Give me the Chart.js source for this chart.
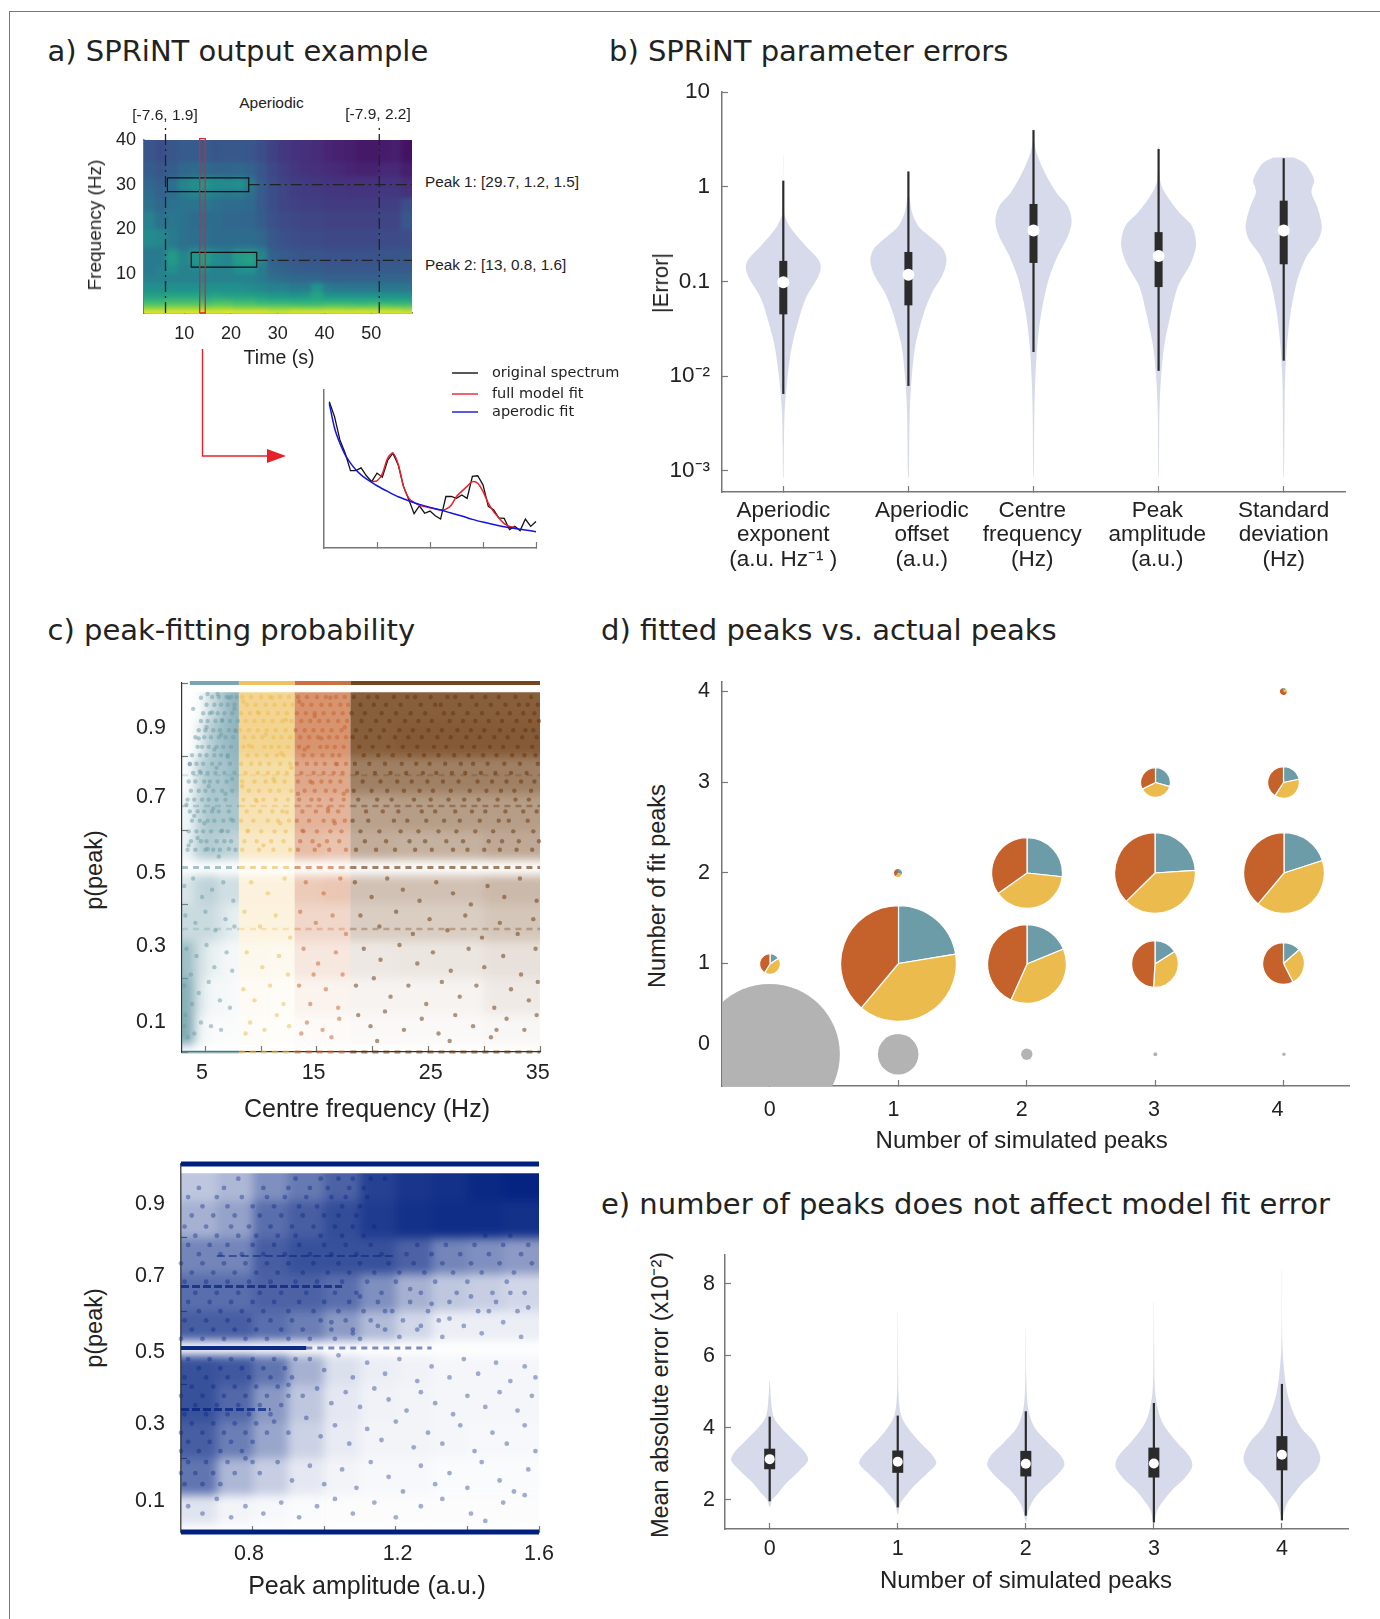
<!DOCTYPE html>
<html>
<head>
<meta charset="utf-8">
<title>SPRiNT figure</title>
<script src="https://cdn.jsdelivr.net/npm/chart.js@4/dist/chart.umd.min.js"></script>
<style>
  html, body { margin: 0; padding: 0; background: #fff; }
  #page { position: relative; width: 1380px; height: 1619px; overflow: hidden; }
  #page canvas { position: absolute; }
  .txt { position: absolute; white-space: nowrap; color: #222; font-family: "Liberation Sans", sans-serif; }
  .head { font-family: "DejaVu Sans", sans-serif; font-size: 29px; }
  #frame { position: absolute; left: 9px; top: 11px; width: 1371px; height: 1608px; border-left: 1px solid #777; border-top: 1px solid #777; }
</style>
</head>
<body>
<div id="page"><div id="frame"></div></div>
<script>
"use strict";

/* ================================
   DATA - panel a (spectrogram + spectrum)
   ================================ */
const heatFreqEdges = [[40,35],[35,32],[32,31],[31,29],[29,27],[27,24],[24,20],[20,16],[16,15],[15,12],[12,10],[10,8],[8,6],[6,4.5],[4.5,3.5],[3.5,2.5],[2.5,1.8],[1.8,1.2]];
const heatTimeEdges = [1.4,3.8,6.2,8.6,11,13.3,15.7,18.1,20.5,22.9,25.3,27.7,30,32.4,34.8,37.2,39.6,42,44.4,46.8,49.2,51.6,54,56.4,58.7];
const heatValues = [
  [27,24,27,29,29,29,27,28,28,27,24,20,17,15,14,13,11,10,9,7,7,8,9,5],
  [30,27,30,34,35,35,33,33,34,32,27,22,19,17,15,14,13,12,11,10,10,12,12,9],
  [32,29,33,40,44,46,44,42,44,37,28,23,20,18,17,16,15,14,14,14,14,15,15,12],
  [34,31,37,46,50,52,49,49,50,42,30,24,21,19,18,17,16,16,15,15,15,16,16,14],
  [36,32,36,42,45,46,43,41,42,37,29,24,21,19,18,18,17,17,16,16,16,17,17,15],
  [38,34,38,39,39,40,37,36,36,35,29,24,21,20,19,19,18,18,18,18,18,19,19,24],
  [44,38,40,38,36,36,36,34,34,34,30,25,23,22,21,21,20,20,20,20,20,21,21,28],
  [48,46,42,38,37,37,36,36,36,36,34,28,25,24,23,23,22,22,22,22,22,23,23,24],
  [42,42,46,40,44,45,42,40,44,44,42,30,27,26,25,25,24,24,24,24,24,25,25,25],
  [42,42,54,46,52,55,49,46,55,57,45,32,30,28,27,27,26,26,26,26,26,27,27,27],
  [42,44,50,44,46,48,44,44,50,51,42,34,32,30,29,29,28,28,28,28,28,29,29,29],
  [44,44,44,44,44,44,44,44,44,44,42,38,36,34,34,34,32,32,32,32,32,33,33,33],
  [50,50,50,50,50,50,50,50,50,48,46,44,44,42,42,52,42,40,40,40,40,40,40,40],
  [56,56,58,58,58,56,58,56,56,56,54,52,52,50,52,58,50,50,50,50,50,50,50,50],
  [66,66,68,68,68,66,68,68,66,66,64,62,62,62,62,62,62,62,62,62,62,60,60,60],
  [74,74,76,76,76,74,76,76,74,74,72,72,72,70,70,70,72,72,72,70,72,72,70,70],
  [84,84,86,86,86,84,86,86,84,84,84,82,82,84,82,82,84,84,82,84,84,84,84,82],
  [96,96,96,96,96,97,96,97,96,96,96,94,94,96,96,96,96,96,96,96,94,96,96,94]
];
const peakBox1 = [[6.4,31.5],[23.8,31.5],[23.8,28.4],[6.4,28.4],[6.4,31.5]];
const peakBox2 = [[11.5,14.8],[25.5,14.8],[25.5,11.5],[11.5,11.5],[11.5,14.8]];
const redBox = [[13.3,1.2],[14.5,1.2],[14.5,40.3],[13.3,40.3],[13.3,1.2]];
const aperiodicTimes = [6, 51.7];

const specFreq = [1,2,3,4,5,6,7,8,9,10,11,12,13,14,15,16,17,18,19,20,21,22,23,24,25,26,27,28,29,30,31,32,33,34,35,36,37,38,39,40];
const specOriginal = [92.6,83,68.4,60,49,49,50.7,45.7,42,47.4,44.8,55.4,60,52.6,39,30.5,21.7,26.7,22,23.4,20.4,18.3,32.6,32.6,31.4,33.5,31.4,45.3,45.7,40,26.3,24.2,19,18.7,11.6,13.7,11,18.3,13.7,16.8];
const fitFreq = [9,10,11,12,13,14,15,16,17,18,20,22,23,24,25,27,28,29,30,31,32,33,34,35,36];
const specFull = [42,42.5,47,56.8,60,53,39,31.6,28.8,27,25.5,24,24.6,27,32.6,39,42,41,35.8,28.4,23,19,15.4,13.7,13];
const apFreq = [1,2,3,4,5,6,7,8,9,10,12,14,16,18,20,22,24,26,28,30,32,34,36,38,40];
const specAperiodic = [91.6,75.8,66.3,59,53.7,49.5,46.3,43.8,41.5,39.4,35.8,32.4,29.9,27.6,25.7,24,22.1,20.2,18.1,16.4,14.9,13.5,12.4,11.4,10.3];

/* ================================
   DATA - panel b (violins, log scale)
   ================================ */
const errPos = [1, 2, 3, 4, 5];
const errLabels = [
  ["Aperiodic", "exponent", "(a.u. Hz⁻¹ )"],
  ["Aperiodic", "offset", "(a.u.)"],
  ["Centre", "frequency", "(Hz)"],
  ["Peak", "amplitude", "(a.u.)"],
  ["Standard", "deviation", "(Hz)"]
];
const errLevels = [
  [2.17,.53,.384,.237,.171,.14,.106,.071,.047,.021,.0095,.0043,.0019,.00085],
  [.79,.53,.384,.278,.218,.165,.115,.077,.047,.021,.0095,.0043,.00085],
  [3.1,2.25,1.39,.86,.62,.43,.3,.186,.106,.047,.021,.0095,.0043,.00085],
  [2.65,1.18,.86,.53,.384,.247,.159,.09,.047,.021,.0095,.0043,.00085],
  [2.03,1.77,1.39,1.14,1,.86,.62,.384,.278,.186,.106,.047,.021,.0095,.0043,.00085]
];
const errWidths = [
  [.001,.007,.05,.18,.28,.3,.27,.19,.14,.07,.033,.011,.005,.002],
  [.007,.03,.08,.2,.28,.305,.27,.19,.125,.055,.026,.011,.003],
  [.004,.026,.093,.185,.275,.305,.275,.193,.122,.063,.03,.015,.007,.002],
  [.004,.011,.052,.167,.267,.3,.26,.156,.1,.045,.019,.007,.002],
  [.082,.167,.222,.245,.23,.222,.267,.305,.278,.185,.111,.056,.026,.011,.007,.002]
];
const errTop = [1.16, 1.45, 3.96, 2.5, 2.0];
const errLow = [.0065, .0079, .018, .0114, .0146];
const errQ3 = [.165, .205, .658, .332, .713];
const errQ1 = [.045, .056, .157, .0873, .152];
const errMedian = [.098, .118, .345, .186, .345];

/* ================================
   DATA - panel c (peak probability)
   ================================ */
const probRows = [[.975,.9],[.9,.8],[.8,.7],[.7,.6],[.6,.52],[.48,.4],[.4,.3],[.3,.2],[.2,.1],[.1,.02]];
const freqCols = [2.9,4,5,6,7,8,10.5,13,15.5,18,22,26,30,35];
const freqDensity = [
  [0,.03,.32,.58,.75, .62,.62, .68,.68, .78,.78,.78,.78],
  [0,.16,.5,.65,.75, .62,.64, .68,.68, .78,.8,.8,.8],
  [.04,.4,.58,.58,.7, .5,.5, .55,.55, .62,.62,.62,.62],
  [.1,.42,.58,.55,.58, .42,.42, .48,.48, .46,.48,.48,.48],
  [.13,.47,.52,.47,.42, .32,.32, .42,.38, .4,.38,.38,.42],
  [.26,.42,.45,.32,.32, .2,.2, .33,.36, .3,.3,.3,.34],
  [.36,.36,.36,.26,.16, .18,.18, .25,.25, .24,.24,.24,.28],
  [.65,.33,.16,.1,.07, .1,.09, .15,.15, .11,.12,.12,.15],
  [.8,.26,.08,.08,.05, .06,.05, .08,.08, .06,.06,.06,.1],
  [.85,.13,.05,.03,.03, .04,.03, .03,.03, .03,.03,.03,.04]
];
const tealPts = [[3.9,.93],[4.6,.96],[5.2,.97],[5.6,.92],[6.1,.97],[6.5,.9],[7.1,.96],[7.6,.93],[4.4,.85],[5.1,.88],[5.8,.82],[6.4,.86],[7,.8],[7.7,.87],[3.6,.78],[4.5,.76],[5.3,.72],[6,.77],[6.8,.7],[7.4,.74],[3.3,.67],[4,.64],[4.9,.62],[5.7,.66],[6.5,.6],[7.3,.63],[3.5,.56],[4.3,.58],[5.2,.55],[6.2,.53],[7.1,.55],[3.1,.45],[3.9,.47],[4.7,.42],[5.6,.44],[6.6,.46],[7.5,.41],[3.2,.37],[4.1,.35],[5,.38],[5.9,.33],[6.8,.36],[7.6,.34],[3.3,.28],[4.2,.26],[5.1,.29],[5.8,.23],[6.9,.27],[3.1,.18],[3.7,.21],[4.4,.16],[5.3,.19],[6.3,.14],[7.2,.12],[3.2,.1],[3.8,.13],[4.6,.08],[5.5,.07],[6.4,.06],[3.4,.04],[4,.05],[3.1,.07],[7.4,.22]];
const yellowPts = [[8.4,.95],[9.7,.92],[11,.96],[12.2,.9],[8.9,.83],[10.4,.86],[11.8,.81],[12.7,.77],[8.3,.72],[9.6,.68],[11.1,.74],[12.3,.65],[8.8,.6],[10.2,.56],[11.7,.62],[9.1,.46],[10.6,.43],[12.1,.47],[8.5,.38],[9.9,.34],[11.3,.37],[12.6,.31],[8.7,.27],[10.1,.23],[11.6,.26],[12.4,.21],[8.4,.17],[9.4,.14],[10.8,.18],[12,.13],[9,.08],[10.3,.06],[11.4,.1],[8.6,.05],[12.5,.07]];
const orangePts = [[13.4,.95],[14.8,.91],[16.2,.96],[17.5,.88],[13.9,.82],[15.4,.85],[16.8,.78],[13.3,.7],[14.6,.73],[16,.66],[17.4,.7],[13.7,.6],[15.2,.56],[16.6,.62],[14,.46],[15.6,.43],[17.1,.47],[13.5,.38],[14.9,.35],[16.4,.37],[17.6,.32],[13.8,.28],[15.1,.24],[16.7,.27],[17.3,.21],[13.4,.18],[14.4,.13],[15.8,.17],[16.9,.12],[14.1,.08],[15.5,.06],[17,.09],[13.6,.05],[16.3,.04],[14.7,.21]];
const brownPts = [[18.4,.46],[19.9,.42],[21.3,.47],[22.7,.44],[24.2,.41],[25.7,.46],[27.2,.43],[28.8,.4],[30.3,.45],[31.8,.42],[33.2,.47],[34.7,.41],
[18.9,.37],[20.6,.34],[22.1,.38],[23.6,.32],[25.1,.36],[26.7,.33],[28.3,.37],[29.8,.31],[31.4,.35],[33,.32],[34.4,.36],
[19.2,.28],[20.7,.25],[22.4,.29],[24,.24],[25.4,.27],[27,.22],[28.6,.28],[30,.23],[31.7,.26],[33.3,.21],[34.6,.28],
[18.5,.18],[20.1,.2],[21.6,.15],[23.2,.18],[24.8,.13],[26.2,.19],[27.8,.15],[29.3,.18],[30.9,.12],[32.4,.17],[34,.14],[34.8,.19],
[18.7,.1],[19.8,.07],[21.1,.11],[22.8,.06],[24.4,.09],[25.9,.05],[27.4,.1],[29,.07],[30.6,.04],[32,.09],[33.6,.06],[34.7,.1],[20.4,.03],[26.9,.03],[31.1,.06]];

/* dense part of the cloud, one list of x per p(peak) row */
const denseRowsP = [.962,.941,.918,.897,.872,.853,.827,.804,.781,.756,.733,.708,.684,.652,.627,.598,.571,.548];
const brownRows = [
  [18.3,19.6,20.4,21.9,23.1,23.8,25.2,26.7,27.4,28.9,30.1,31.3,32.8,34.2],
  [18.9,20.1,21.2,22.5,24.3,25.6,26.1,27.8,29.3,30.6,31.9,33.1,33.9,34.8],
  [18.1,19.3,20.8,22.1,23.4,24.7,26.4,27.2,28.5,29.8,31.2,32.3,33.5,34.5],
  [19,20.3,21.5,22.9,24.1,25.3,26.9,28.1,29.2,30.4,31.6,32.9,34.1,34.9],
  [18.5,19.8,21,22.4,23.6,25,26.2,27.6,28.8,30,31.4,32.6,33.7,34.4],
  [18.2,19.4,20.6,22,23.2,24.4,25.8,27,28.4,29.6,30.9,32.1,33.4,34.7],
  [18.8,20,21.4,22.7,24,25.5,26.6,28,29.1,30.5,31.7,33,34.3],
  [19.2,20.5,21.8,23.3,24.6,25.9,27.3,28.6,29.9,31.1,32.5,33.6,34.6],
  [18.4,19.7,21.1,22.6,23.9,25.1,26.5,27.9,29,30.3,31.8,33.2,34.8],
  [18.6,20.2,21.6,23,24.5,25.7,27.1,28.3,29.7,31,32.4,33.8],
  [19.1,20.7,22.2,23.5,24.9,26.3,27.7,29.4,30.7,32,33.3,34.5],
  [18.3,19.9,21.3,22.8,24.2,25.4,27,28.7,30.2,31.5,32.7,34.2],
  [18.7,20.4,21.7,23.7,25.2,26.8,28.2,29.5,31.2,32.8,34],
  [19.4,20.9,22.3,24.4,25.6,27.4,28.9,30.1,31.9,33.5,34.7],
  [18.2,19.6,21.9,23.1,24.8,26.4,27.8,29.6,31.3,32.2,33.9],
  [18.9,20.6,22.5,24.1,25.9,27.5,29.2,30.8,32.6,34.4],
  [19.3,21.2,23.3,24.7,26.6,28.1,30.4,31.6,33.1,34.9],
  [18.5,20.3,22,23.8,25.3,27.2,28.5,30,31.4,32.9,34.3]
];
const tealRows = [
  [5.6,6.2,6.9,7.3,7.8],[5.1,5.8,6.4,7,7.6],[4.8,5.4,6.1,6.7,7.4],[4.6,5.2,5.9,6.5,7.2,7.9],[4.4,5,5.7,6.3,7.1,7.7],[4.1,4.9,5.5,6.2,6.8,7.5],
  [4.3,4.7,5.3,6,6.6,7.3],[3.8,4.5,5.1,5.8,6.4,7],[3.6,4.2,4.8,5.6,6.3,7.2],[3.9,4.6,5.2,5.9,6.7,7.6],[3.5,4.1,4.9,5.4,6.1,6.9],[3.7,4.4,5,5.7,6.5,7.4],
  [3.4,4,4.7,5.3,6,6.8],[3.6,4.3,4.9,5.6,6.2,7.1],[3.8,4.5,5.2,5.8,6.6,7.5],[3.5,4.2,4.8,5.5,6.4,7],[3.7,4.6,5.1,6,6.7,7.3],[3.4,4.1,5,5.7,6.3,7.7]
];
const yellowRows = [
  [8.3,9.1,10,10.8,11.7,12.5],[8.7,9.5,10.4,11.2,12.1,12.8],[8.2,9,9.8,10.6,11.5,12.3],[8.6,9.4,10.2,11,11.9,12.7],[8.1,8.9,9.7,10.5,11.3,12.2],[8.5,9.3,10.1,11.1,11.8,12.6],
  [8.4,9.2,10.3,10.9,11.6,12.4],[8.8,9.6,10.5,11.4,12],[8.2,9.1,9.9,10.7,11.7,12.6],[8.6,9.7,10.6,11.5,12.3],[8.3,9.4,10.4,11.2,12.1],[8.9,9.8,10.8,11.6,12.7],
  [8.4,9.5,10.2,11.3,12.4],[8.7,9.9,11,11.9],[8.2,9.3,10.6,11.5,12.5],[8.8,10,11.2,12.2],[8.5,9.6,10.9,12],[8.3,9.8,11.1,12.6]
];
const orangeRows = [
  [13.3,14.1,15,15.8,16.7,17.5],[13.7,14.5,15.4,16.2,17.1,17.8],[13.2,14,14.8,15.6,16.5,17.3],[13.6,14.4,15.2,16,16.9,17.7],[13.1,13.9,14.7,15.5,16.3,17.2],[13.5,14.3,15.1,16.1,16.8,17.6],
  [13.4,14.2,15.3,15.9,16.6,17.4],[13.8,14.6,15.5,16.4,17],[13.2,14.1,14.9,15.7,16.7,17.6],[13.6,14.7,15.6,16.5,17.3],[13.3,14.4,15.4,16.2,17.1],[13.9,14.8,15.8,16.6,17.7],
  [13.4,14.5,15.2,16.3,17.4],[13.7,14.9,16,16.9],[13.2,14.3,15.6,16.5,17.5],[13.8,15,16.2,17.2],[13.5,14.6,15.9,17],[13.3,14.8,16.1,17.6]
];

/* p(peak) vs amplitude */
const ampCols = [.6,.7,.8,.9,1,1.1,1.2,1.3,1.4,1.5,1.6];
const ampDensity = [
  [.25,.32,.5,.6,.7,.85,.9,.92,.96,.98],
  [.35,.42,.65,.72,.8,.88,.92,.94,.94,.92],
  [.55,.55,.72,.78,.78,.78,.7,.55,.5,.45],
  [.65,.65,.7,.7,.65,.5,.35,.25,.22,.18],
  [.72,.72,.65,.58,.45,.3,.18,.08,.08,.08],
  [.78,.75,.62,.35,.14,.08,.06,.04,.04,.04],
  [.78,.68,.46,.25,.1,.06,.05,.04,.04,.04],
  [.72,.58,.4,.2,.09,.05,.05,.04,.03,.03],
  [.62,.32,.22,.1,.05,.03,.03,.02,.02,.02],
  [.12,.05,.03,.02,.01,.01,.01,.01,.01,.01]
];
const bluePts = [[1.1,.64],[1.17,.6],[1.24,.66],[1.3,.62],[1.35,.58],[1.41,.64],[1.46,.6],[1.52,.65],[1.57,.61],[1.02,.57],[1.08,.54],[1.15,.56],[1.21,.53],[1.27,.56],[1.33,.53],[1.39,.56],[1.44,.54],[1.5,.57],[1.55,.53],
[.96,.47],[1,.44],[1.04,.48],[1.08,.42],[1.12,.46],[1.17,.43],[1.21,.47],[1.26,.41],[1.3,.45],[1.35,.42],[1.39,.47],[1.43,.43],[1.48,.46],[1.52,.41],[1.56,.45],[1.59,.42],
[.9,.4],[.94,.37],[.98,.39],[1.02,.35],[1.06,.38],[1.1,.34],[1.14,.39],[1.18,.36],[1.23,.33],[1.27,.38],[1.31,.35],[1.36,.32],[1.4,.37],[1.45,.34],[1.49,.38],[1.54,.33],[1.58,.37],
[.86,.3],[.9,.27],[.95,.31],[.99,.26],[1.03,.29],[1.07,.24],[1.12,.28],[1.16,.25],[1.2,.3],[1.25,.23],[1.29,.27],[1.33,.24],[1.38,.29],[1.42,.22],[1.47,.27],[1.51,.24],[1.56,.29],[1.59,.22],
[.78,.2],[.82,.16],[.87,.19],[.91,.14],[.96,.18],[1,.13],[1.05,.17],[1.09,.12],[1.13,.19],[1.18,.15],[1.22,.11],[1.27,.18],[1.31,.13],[1.35,.16],[1.4,.12],[1.44,.19],[1.49,.14],[1.53,.11],[1.57,.17],
[.62,.07],[.66,.05],[.7,.09],[.74,.04],[.78,.07],[.83,.05],[.88,.08],[.93,.04],[.98,.07],[1.03,.09],[1.08,.05],[1.14,.08],[1.2,.04],[1.27,.07],[1.33,.09],[1.41,.05],[1.5,.08],[1.56,.1],[1.45,.03]];
const blueRowsP = [.96,.935,.91,.885,.86,.83,.805,.78,.755,.73,.705,.68,.65,.625,.6,.575,.55,.525,.47,.445,.42,.395,.37,.345,.32,.295,.27,.245,.22,.19,.16,.13];
const blueRows = [
  [.76,.92,.99,1.04,1.08,1.13,1.17],
  [.65,.72,.83,.9,.96,1.01,1.07,1.11],
  [.62,.7,.77,.84,.89,.95,1.02,1.06,1.12],
  [.66,.73,.8,.86,.93,.98,1.05,1.1],
  [.63,.69,.75,.82,.88,.94,1,1.04,1.09],
  [.61,.67,.74,.79,.85,.91,.97,1.03,1.08,1.14],
  [.64,.7,.76,.81,.87,.92,.99,1.05,1.11,1.45,1.52],
  [.62,.68,.73,.8,.86,.93,1,1.06,1.13,1.26,1.34,1.42,1.5,1.57],
  [.65,.71,.77,.83,.89,.96,1.02,1.09,1.16,1.23,1.3,1.38,1.46,1.55],
  [.6,.66,.72,.78,.84,.9,.97,1.04,1.1,1.18,1.25,1.33,1.41,1.49,1.58],
  [.63,.69,.75,.81,.87,.94,1.01,1.07,1.14,1.21,1.28,1.36,1.44,1.53],
  [.61,.67,.73,.79,.85,.92,.98,1.05,1.12,1.2,1.31,1.4,1.51],
  [.64,.7,.76,.82,.88,.95,1.03,1.09,1.16,1.27,1.37,1.47,1.56],
  [.62,.68,.74,.8,.86,.93,1,1.07,1.15,1.24,1.35,1.48],
  [.65,.71,.77,.83,.9,.97,1.04,1.11,1.19,1.29,1.43,1.54],
  [.61,.67,.73,.79,.85,.91,.99,1.06,1.13,1.22,1.32],
  [.63,.69,.75,.81,.88,.94,1.02,1.08,1.17,1.26],
  [.6,.66,.72,.78,.84,.9,.96,1.03,1.1],
  [.62,.68,.74,.8,.86,.92],
  [.65,.71,.77,.83,.89],
  [.61,.67,.73,.79,.85,.91],
  [.63,.69,.75,.81,.87],
  [.6,.66,.72,.78,.84,.9],
  [.64,.7,.76,.82,.88],
  [.61,.67,.73,.79,.85],
  [.63,.69,.75,.81],
  [.6,.66,.72,.78,.84],
  [.62,.68,.74,.8],
  [.6,.65,.71,.77],
  [.62,.67,.73,.8],
  [.6,.64,.69,.75],
  [.61,.66,.71]
];

/* ================================
   DATA - panel d (fitted vs actual peaks)
   ================================ */
const noPeakSim = [0, 1, 2, 3, 4];
const noPeakCounts = [4940, 412, 32, 4, 3];
const pieSim = [0, 1, 1, 2, 2, 3, 3, 3, 4, 4, 4, 4];
const pieFit = [1, 1, 2, 1, 2, 1, 2, 3, 1, 2, 3, 4];
const pieCounts = [100, 3250, 9, 1498, 1204, 529, 1600, 204, 420, 1576, 231, 5];
const pieTeal = [.158, .224, .3, .188, .267, .16, .24, .295, .135, .2, .217, .1];
const pieYellow = [.43, .387, .3, .379, .385, .35, .386, .382, .29, .411, .375, .2];
const pieOrange = [.412, .389, .4, .433, .348, .49, .374, .323, .575, .389, .408, .7];

/* ================================
   DATA - panel e (model fit error violins)
   ================================ */
const maePos = [0, 1, 2, 3, 4];
const maeLevels = [
  [5.3,4.8,4.3,4,3.6,3.3,3.09,2.8,2.5,2.2,2,1.8],
  [7.2,5.5,4.8,4.3,3.9,3.5,3.2,3,2.7,2.4,2.1,1.9,1.6],
  [6.8,5.2,4.5,4,3.6,3.2,2.95,2.6,2.3,2,1.7,1.4],
  [7.5,6,5,4.4,4,3.6,3.2,2.93,2.6,2.3,2,1.7,1.35],
  [8.4,6.3,5.5,5,4.5,4,3.6,3.16,2.8,2.5,2.2,1.9,1.6,1.4]
];
const maeWidths = [
  [.002,.01,.03,.09,.2,.28,.3,.23,.14,.07,.02,.003],
  [.001,.003,.008,.03,.1,.2,.28,.3,.22,.13,.06,.02,.003],
  [.001,.005,.02,.07,.17,.28,.3,.22,.13,.06,.02,.003],
  [.001,.003,.01,.04,.09,.18,.28,.3,.24,.15,.08,.025,.003],
  [.001,.004,.02,.04,.08,.15,.25,.3,.26,.17,.1,.04,.012,.002]
];
const maeTop = [4.31, 4.34, 4.46, 4.69, 5.22];
const maeLow = [1.96, 1.79, 1.56, 1.37, 1.43];
const maeQ3 = [3.42, 3.37, 3.36, 3.45, 3.77];
const maeQ1 = [2.85, 2.75, 2.65, 2.62, 2.82];
const maeMedian = [3.13, 3.06, 3.0, 3.01, 3.25];

/* ================================
   HELPERS
   ================================ */
const page = document.getElementById("page");
const FONT = "'Liberation Sans', sans-serif";
const AXIS = "#777";
const TICK = 6;
const TEAL = "#6c9ca8", YELLOW = "#ecbb4e", ORANGE = "#c5612b", BROWN = "#663205", NAVY = "#00207f";
const VIOLIN = "#d6daea", BOX = "#2b2b2b";

Chart.defaults.animation = false;
Chart.defaults.responsive = false;
Chart.defaults.maintainAspectRatio = false;
Chart.defaults.font.family = FONT;
Chart.defaults.plugins.legend.display = false;
Chart.defaults.plugins.tooltip.enabled = false;

function text(str, x, y, size, opts = {}) {
  const el = document.createElement("div");
  el.className = "txt" + (opts.head ? " head" : "");
  el.textContent = str;
  el.style.left = x + "px";
  el.style.top = y + "px";
  if (!opts.head) el.style.fontSize = size + "px";
  if (opts.font) el.style.fontFamily = opts.font;
  const tx = opts.left ? "0" : "-50%";
  el.style.transform = `translate(${tx},-50%)` + (opts.rotate ? " rotate(-90deg)" : "");
  page.appendChild(el);
}

function axis(type, min, max, marks, labels, size, gap, extra = {}) {
  const map = new Map(labels);
  const all = [...new Set([...marks, ...map.keys()])].sort((a, b) => a - b);
  return {
    type, min, max,
    afterBuildTicks: ax => { ax.ticks = all.map(value => ({ value })); },
    ticks: {
      autoSkip: false, maxRotation: 0, minRotation: 0, padding: gap + TICK, color: "#222",
      font: { size, lineHeight: extra.lineHeight || 1.2 },
      callback: v => (map.has(v) ? map.get(v) : "")
    },
    grid: {
      drawOnChartArea: false, tickLength: -TICK, tickWidth: 1.2,
      tickColor: c => (marks.includes(c.tick.value) ? AXIS : "rgba(0,0,0,0)")
    },
    border: { color: extra.color || AXIS, width: extra.width || 1.5 }
  };
}

// box = plot area [left, top, right, bottom] on the page, pinned after layout
function makeChart(box, m, config) {
  const [bl, bt, br, bb] = box.map(Math.round);
  const c = document.createElement("canvas");
  c.width = br - bl + m.l + m.r;
  c.height = bb - bt + m.t + m.b;
  c.style.left = (bl - m.l) + "px";
  c.style.top = (bt - m.t) + "px";
  page.appendChild(c);
  config.options = config.options || {};
  config.options.layout = { autoPadding: false };
  config.plugins = (config.plugins || []).concat([{
    id: "pin",
    afterLayout(chart) {
      const L = m.l, T = m.t, R = chart.width - m.r, B = chart.height - m.b;
      chart.chartArea = { left: L, top: T, right: R, bottom: B, width: R - L, height: B - T };
      const { x, y } = chart.scales;
      Object.assign(x, { left: L, right: R, width: R - L, top: B, bottom: chart.height, height: m.b });
      Object.assign(y, { left: 0, right: L, width: L, top: T, bottom: B, height: B - T });
      x.configure();
      y.configure();
    }
  }]);
  return new Chart(c.getContext("2d"), config);
}

function line(points, color, width, extra = {}) {
  return Object.assign({
    data: points.map(p => ({ x: p[0], y: p[1] })),
    showLine: true, borderColor: color, borderWidth: width, pointRadius: 0,
    borderCapStyle: "butt", clip: false
  }, extra);
}

function dots(points, color, radius) {
  return {
    data: points.map(p => ({ x: p[0], y: p[1] })),
    backgroundColor: color, borderWidth: 0, pointRadius: radius, clip: false
  };
}

function rowsToPts(ps, rows) {
  const out = [];
  rows.forEach((xs, i) => xs.forEach(v => out.push([v, ps[i]])));
  return out;
}

function rgba(hex, a) {
  const n = parseInt(hex.slice(1), 16);
  return `rgba(${n >> 16},${(n >> 8) & 255},${n & 255},${a})`;
}

// table cells drawn behind the datasets, through the chart's scales
function cellPlugin(cols, rows, values, colour, bands, blurPx) {
  return {
    id: "cells",
    beforeDatasetsDraw(chart) {
      const { ctx, scales: { x, y }, chartArea: a } = chart;
      bands.forEach(b => {
        const off = document.createElement("canvas");
        off.width = chart.width;
        off.height = chart.height;
        const oc = off.getContext("2d");
        rows.forEach((r, i) => {
          values[i].forEach((v, j) => {
            if (cols[j] < b[0] || cols[j + 1] > b[1]) return;
            // cells on the band edge bleed out, so the blur does not fade them
            const px0 = x.getPixelForValue(cols[j]) - (cols[j] === b[0] ? 20 : 0);
            const px1 = x.getPixelForValue(cols[j + 1]) + (cols[j + 1] === b[1] ? 20 : 0);
            const py0 = y.getPixelForValue(r[0]) - (i === 0 ? 20 : 0);
            const py1 = y.getPixelForValue(r[1]);
            oc.fillStyle = colour(v, j);
            oc.fillRect(Math.round(px0), Math.round(py0), Math.round(px1) - Math.round(px0), Math.round(py1) - Math.round(py0));
          });
        });
        ctx.save();
        const bx0 = x.getPixelForValue(b[0]), bx1 = x.getPixelForValue(b[1]);
        const top = y.getPixelForValue(rows[0][0]);
        ctx.beginPath();
        ctx.rect(bx0, top, bx1 - bx0, a.bottom - top);
        ctx.clip();
        if (colour.solid) ctx.drawImage(off, 0, 0);
        ctx.filter = `blur(${blurPx}px)`;
        ctx.drawImage(off, 0, 0);
        ctx.restore();
      });
    }
  };
}

const VIRIDIS = [[0,68,1,84],[.13,71,44,122],[.25,59,81,139],[.38,44,113,142],[.5,33,144,141],[.63,39,173,129],[.75,92,200,99],[.88,170,220,50],[1,253,231,37]];
function viridis(t) {
  t = t / 100;
  for (let i = 1; i < VIRIDIS.length; i++) {
    if (t <= VIRIDIS[i][0]) {
      const a = VIRIDIS[i - 1], b = VIRIDIS[i], f = (t - a[0]) / (b[0] - a[0]);
      return `rgb(${a[1] + (b[1] - a[1]) * f},${a[2] + (b[2] - a[2]) * f},${a[3] + (b[3] - a[3]) * f})`;
    }
  }
  return "rgb(253,231,37)";
}
viridis.solid = true;

function violinDatasets(pos, levels, widths, top, low, q3, q1, med, boxW, medR) {
  const sets = [];
  pos.forEach((p, i) => {
    const right = levels[i].map((v, k) => [p + widths[i][k], v]);
    const left = levels[i].map((v, k) => [p - widths[i][k], v]).reverse();
    sets.push(line(right.concat(left), "rgba(0,0,0,0)", 0, {
      fill: "shape", backgroundColor: VIOLIN, tension: 0.3, order: 4
    }));
    sets.push(line([[p, low[i]], [p, top[i]]], BOX, 2.2, { order: 3 }));
    sets.push(line([[p, q1[i]], [p, q3[i]]], BOX, boxW, { order: 2 }));
    sets.push(Object.assign(dots([[p, med[i]]], "#fff", medR), { order: 1 }));
  });
  return sets;
}

/* ================================
   HEADINGS
   ================================ */
text("a) SPRiNT output example", 47.5, 51, 29, { head: true, left: true });
text("b) SPRiNT parameter errors", 609, 51, 29, { head: true, left: true });
text("c) peak-fitting probability", 47.5, 630, 29, { head: true, left: true });
text("d) fitted peaks vs. actual peaks", 601, 630, 29, { head: true, left: true });
text("e) number of peaks does not affect model fit error", 601, 1204, 29, { head: true, left: true });

/* ================================
   PANEL A - spectrogram
   ================================ */
const DASHDOT = [11, 4, 2, 4];
const heatSets = [
  line(redBox, "#e8202a", 1.3),
  line(peakBox1, "#111", 1.2),
  line(peakBox2, "#111", 1.2),
  line([[23.8, 30], [58.7, 30]], "#222", 1.3, { borderDash: DASHDOT }),
  line([[25.5, 13], [58.7, 13]], "#222", 1.3, { borderDash: DASHDOT })
];
aperiodicTimes.forEach(t => {
  heatSets.push(line([[t, 1.2], [t, 43]], "#222", 1.3, { borderDash: DASHDOT }));
});
makeChart([143.5, 139.5, 412, 313], { l: 40, t: 20, r: 10, b: 35 }, {
  type: "scatter",
  data: { datasets: heatSets },
  options: {
    scales: {
      x: axis("linear", 1.4, 58.7, [10, 20, 30, 40, 50], [[10, "10"], [20, "20"], [30, "30"], [40, "40"], [50, "50"]], 18, 10),
      y: axis("linear", 1.2, 40, [10, 20, 30, 40], [[10, "10"], [20, "20"], [30, "30"], [40, "40"]], 18, 8)
    }
  },
  plugins: [cellPlugin(heatTimeEdges, heatFreqEdges, heatValues, viridis, [[1.4, 58.7]], 2)]
});
text("Frequency (Hz)", 95, 225, 19, { rotate: true });
text("Time (s)", 279, 357, 19.5);
text("Aperiodic", 271.5, 103, 15.5);
text("[-7.6, 1.9]", 165, 114.5, 15.5);
text("[-7.9, 2.2]", 378, 113.5, 15.5);
text("Peak 1: [29.7, 1.2, 1.5]", 425, 181.5, 15.3, { left: true });
text("Peak 2: [13, 0.8, 1.6]", 425, 265, 15.3, { left: true });

// red pointer from the spectrogram slice to the spectrum
page.insertAdjacentHTML("beforeend", `<svg style="position:absolute;left:0;top:0" width="1380" height="600">
  <path d="M202.5 349 V456 H272" fill="none" stroke="#e8202a" stroke-width="1.4"/>
  <path d="M267 449 L286 456 L267 463 Z" fill="#e8202a"/>
  <path d="M452 373 H478" stroke="#111" stroke-width="1.4"/>
  <path d="M452 394 H478" stroke="#e8202a" stroke-width="1.4"/>
  <path d="M452 412 H478" stroke="#1414e0" stroke-width="1.4"/>
</svg>`);
text("original spectrum", 492, 372, 14.5, { left: true, font: "'DejaVu Sans', sans-serif" });
text("full model fit", 492, 393, 14.5, { left: true, font: "'DejaVu Sans', sans-serif" });
text("aperodic fit", 492, 411, 14.5, { left: true, font: "'DejaVu Sans', sans-serif" });

/* spectrum */
const zip = (xs, ys) => xs.map((v, i) => [v, ys[i]]);
makeChart([324, 390, 536, 548.3], { l: 8, t: 6, r: 8, b: 8 }, {
  type: "scatter",
  data: { datasets: [
    line(zip(apFreq, specAperiodic), "#1414e0", 1.5, { tension: 0.3 }),
    line(zip(fitFreq, specFull), "#e8202a", 1.5, { tension: 0.3 }),
    line(zip(specFreq, specOriginal), "#111", 1.3)
  ] },
  options: {
    scales: {
      x: axis("linear", 0, 40, [10, 20, 30, 40], [], 10, 0),
      y: axis("linear", 0, 100, [], [], 10, 0)
    }
  }
});

/* ================================
   PANEL B - parameter errors
   ================================ */
makeChart([722, 91.7, 1345, 492], { l: 70, t: 15, r: 25, b: 90 }, {
  type: "scatter",
  data: { datasets: violinDatasets(errPos, errLevels, errWidths, errTop, errLow, errQ3, errQ1, errMedian, 8, 6) },
  options: {
    scales: {
      x: axis("linear", 0.51, 5.49, errPos, [[1, errLabels[0]], [2.107, errLabels[1]], [2.99, errLabels[2]], [3.99, errLabels[3]], [5, errLabels[4]]], 22.5, 6, { lineHeight: 1.1 }),
      y: axis("logarithmic", 0.00063, 10, [10, 1, .1, .01, .001], [[10, "10"], [1, "1"], [.1, "0.1"], [.01, "10⁻²"], [.001, "10⁻³"]], 22.5, 12)
    }
  }
});
text("|Error|", 660.5, 283, 22, { rotate: true });

/* ================================
   PANEL C - probability scatters
   ================================ */
const bandColour = [TEAL, TEAL, TEAL, TEAL, TEAL, YELLOW, YELLOW, ORANGE, ORANGE, BROWN, BROWN, BROWN, BROWN];
const freqBands = [[2.9, 8], [8, 13], [13, 18], [18, 35]];
const bandColours = [TEAL, YELLOW, ORANGE, BROWN];
const freqStripes = [[1, .9, 4], [.5, .6, 3], [.667, .4, 2.5], [.333, .3, 2.5], [.75, .25, 2], [0, .6, 3]];
const cSets = [];
freqBands.forEach((b, i) => {
  freqStripes.forEach(s => {
    const x0 = (s[0] === 1 && i === 0) ? 3.6 : b[0];
    const dash = (s[0] === 1 || (s[0] === 0 && i === 0)) ? [] : [6, 5];
    cSets.push(line([[x0, s[0]], [b[1], s[0]]], rgba(bandColours[i], s[1]), s[2], { borderDash: dash }));
  });
});
[
  tealPts.concat(rowsToPts(denseRowsP, tealRows)),
  yellowPts.concat(rowsToPts(denseRowsP, yellowRows)),
  orangePts.concat(rowsToPts(denseRowsP, orangeRows)),
  brownPts.concat(rowsToPts(denseRowsP, brownRows))
].forEach((pts, i) => {
  cSets.push(dots(pts, rgba(bandColours[i], .5), 2.2));
});
const probMarks = [0, .2, .4, .6, .8, 1];
makeChart([181.7, 683.3, 540, 1052], { l: 60, t: 12, r: 25, b: 45 }, {
  type: "scatter",
  data: { datasets: cSets },
  options: {
    scales: {
      x: axis("linear", 2.9, 35, [5, 10, 15, 20, 25, 30, 35], [[4.7, "5"], [14.7, "15"], [25.2, "25"], [34.8, "35"]], 21.5, 8, { color: "#333", width: 1.2 }),
      y: axis("linear", 0, 1, probMarks, [[.08, "0.1"], [.288, "0.3"], [.484, "0.5"], [.692, "0.7"], [.878, "0.9"]], 21.5, 16, { color: "#333", width: 1.2 })
    }
  },
  plugins: [cellPlugin(freqCols, probRows, freqDensity, (v, j) => rgba(bandColour[j], v), freqBands, 5)]
});
text("p(peak)", 94, 870, 23.5, { rotate: true });
text("Centre frequency (Hz)", 367, 1107.5, 25);

const ampStripes = [[.6, 1.6, 1, 1, 5, []], [.6, 1.6, 0, 1, 5, []], [.6, .95, .5, .95, 4, []], [.95, 1.3, .5, .5, 3, [6, 5]], [.6, 1.05, .667, .7, 3, [8, 3]], [.6, .85, .333, .7, 3, [8, 3]], [.7, 1.2, .75, .5, 2, [8, 4]]];
const amSets = ampStripes.map(s => line([[s[0], s[2]], [s[1], s[2]]], rgba(NAVY, s[3]), s[4], { borderDash: s[5] }));
amSets.push(dots(bluePts.concat(rowsToPts(blueRowsP, blueRows)), rgba(NAVY, .36), 2.4));
makeChart([181, 1164, 539, 1532.3], { l: 60, t: 12, r: 25, b: 45 }, {
  type: "scatter",
  data: { datasets: amSets },
  options: {
    scales: {
      x: axis("linear", .6, 1.6, [.8, 1, 1.2, 1.4, 1.6], [[.79, "0.8"], [1.205, "1.2"], [1.6, "1.6"]], 21.5, 9, { color: "#555", width: 1.5 }),
      y: axis("linear", 0, 1, probMarks, [[.084, "0.1"], [.292, "0.3"], [.488, "0.5"], [.695, "0.7"], [.89, "0.9"]], 21.5, 16, { color: "#555", width: 1.5 })
    }
  },
  plugins: [cellPlugin(ampCols, probRows, ampDensity, v => rgba(NAVY, v), [[.6, 1.6]], 5)]
});
text("p(peak)", 94, 1328, 23.5, { rotate: true });
text("Peak amplitude (a.u.)", 367, 1585, 25);

/* ================================
   PANEL D - pies over a bubble axis
   ================================ */
const dChart = makeChart([722.4, 681.7, 1349, 1086], { l: 50, t: 12, r: 20, b: 50 }, {
  type: "bubble",
  data: { datasets: [{
    data: noPeakSim.map((s, i) => ({ x: s, y: 0, r: Math.sqrt(noPeakCounts[i]) })),
    backgroundColor: "#b3b3b3", borderWidth: 0
  }] },
  options: {
    scales: {
      x: axis("linear", -.37, 4.506, [0, 1, 2, 3, 4], [[.001, "0"], [.964, "1"], [1.96, "2"], [2.99, "3"], [3.95, "4"]], 21.5, 11),
      y: axis("linear", -.35, 4.105, [0, 1, 2, 3, 4], [[.11, "0"], [1, "1"], [2, "2"], [3, "3"], [4, "4"]], 21.5, 12)
    }
  }
});
pieSim.forEach((s, i) => {
  const r = Math.sqrt(pieCounts[i]);
  const size = Math.ceil(2 * r + 2);
  const c = document.createElement("canvas");
  c.width = size;
  c.height = size;
  const dLeft = parseFloat(dChart.canvas.style.left), dTop = parseFloat(dChart.canvas.style.top);
  c.style.left = Math.round(dLeft + dChart.scales.x.getPixelForValue(s) - size / 2) + "px";
  c.style.top = Math.round(dTop + dChart.scales.y.getPixelForValue(pieFit[i]) - size / 2) + "px";
  page.appendChild(c);
  new Chart(c.getContext("2d"), {
    type: "pie",
    data: { datasets: [{
      data: [pieTeal[i], pieYellow[i], pieOrange[i]],
      backgroundColor: [TEAL, YELLOW, ORANGE],
      borderColor: "#fff", borderWidth: r > 6 ? 1.2 : 0
    }] }
  });
});
text("Number of fit peaks", 657, 885.5, 23.5, { rotate: true });
text("Number of simulated peaks", 1021.7, 1139.6, 24);

/* ================================
   PANEL E - model fit error
   ================================ */
makeChart([725.3, 1255, 1348, 1529.3], { l: 50, t: 12, r: 20, b: 40 }, {
  type: "scatter",
  data: { datasets: violinDatasets(maePos, maeLevels, maeWidths, maeTop, maeLow, maeQ3, maeQ1, maeMedian, 11, 5) },
  options: {
    scales: {
      x: axis("linear", -.349, 4.516, maePos, [[0, "0"], [1, "1"], [2, "2"], [3, "3"], [4, "4"]], 21.5, 7),
      y: axis("linear", 1.19, 8.8, [2, 4, 6, 8], [[2, "2"], [4, "4"], [6, "6"], [8, "8"]], 21.5, 10)
    }
  }
});
text("Mean absolute error (x10⁻²)", 658.5, 1395, 23.5, { rotate: true });
text("Number of simulated peaks", 1026, 1580, 24);
</script>
</body>
</html>
